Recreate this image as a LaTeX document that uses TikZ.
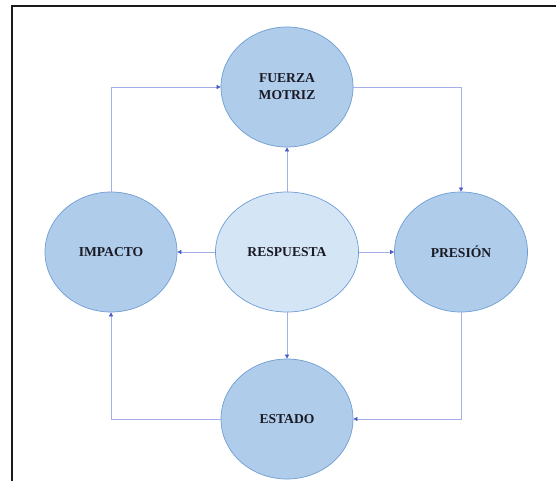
\documentclass[tikz,border=0pt]{standalone}
\usepackage{fontspec}
\setmainfont{Liberation Serif}
\usetikzlibrary{shapes.geometric,arrows.meta}
\definecolor{circfill}{HTML}{AFCCEA}
\definecolor{circedge}{HTML}{6F9ED3}
\definecolor{respfill}{HTML}{D4E6F6}
\definecolor{linkc}{HTML}{A3AEEA}
\definecolor{tipc}{HTML}{4A5CC8}
\definecolor{textc}{HTML}{1A1A24}
\begin{document}
\begin{tikzpicture}[x=1pt,y=-1pt,
  state/.style={ellipse, draw=circedge, line width=0.7pt, fill=circfill,
    minimum width=132pt, minimum height=120pt, inner sep=0pt,
    font=\fontsize{13.6}{17}\selectfont\bfseries, text=textc, align=center},
  link/.style={draw=linkc, line width=0.6pt,
    -{Triangle[length=4pt,width=4pt,color=tipc]}}]
\useasboundingbox (0,0) rectangle (556,481);
\fill[white] (0,0) rectangle (556,481);
\draw[line width=2pt, black!90] (12,481) -- (12,6) -- (556,6);
\node[state] (fm) at (287,87) {FUERZA\\MOTRIZ};
\node[state] (imp) at (111,252) {IMPACTO};
\node[state, fill=respfill, minimum width=143pt] (res) at (287,252) {RESPUESTA};
\node[state, minimum width=133pt] (pre) at (461,252) {PRESIÓN};
\node[state] (est) at (287,419) {ESTADO};
\draw[link] (res) -- (fm);
\draw[link] (res) -- (imp);
\draw[link] (res) -- (pre);
\draw[link] (res) -- (est);
\draw[link] (imp.north) |- (fm.west);
\draw[link] (fm.east) -| (pre.north);
\draw[link] (pre.south) |- (est.east);
\draw[link] (est.west) -| (imp.south);
\end{tikzpicture}
\end{document}
